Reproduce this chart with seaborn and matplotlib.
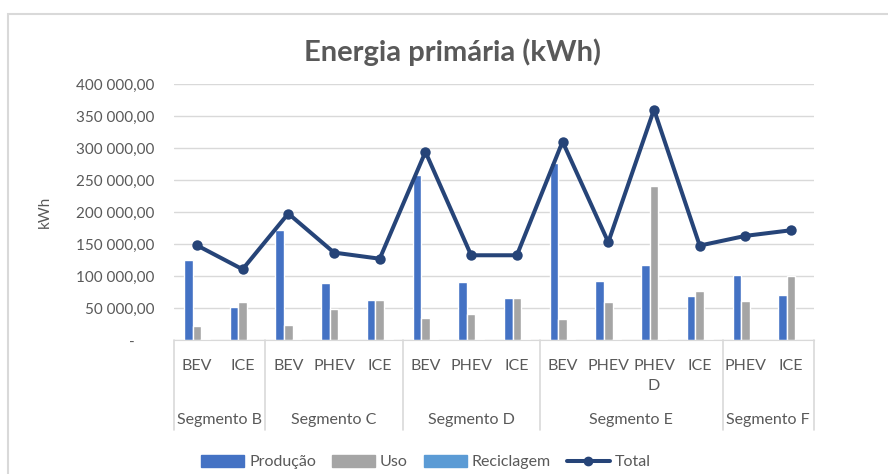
import numpy as np
import pandas as pd
import seaborn as sns
import matplotlib.pyplot as plt
import matplotlib.transforms as mtransforms
from matplotlib.patches import Rectangle
from matplotlib.lines import Line2D
from matplotlib.ticker import FuncFormatter

# data
segments = ["Segmento B", "Segmento C", "Segmento D", "Segmento E", "Segmento F"]
seg_sizes = [2, 3, 3, 4, 2]
vehicles = ["BEV", "ICE",
            "BEV", "PHEV", "ICE",
            "BEV", "PHEV", "ICE",
            "BEV", "PHEV", "PHEV\nD", "ICE",
            "PHEV", "ICE"]
producao = [124600, 51000, 172600, 88600, 63000, 258000, 90000, 65700,
            276000, 91800, 117300, 68800, 102000, 70400]
uso = [22400, 59000, 24000, 48500, 63000, 34400, 40700, 65700,
       32800, 59000, 241400, 76600, 60500, 100600]
reciclagem = [1000, 500, 1000, 500, 1000, 1600, 1700, 1000,
              1200, 2000, 1300, 2100, 200, 500]
total = [148000, 110500, 197600, 136600, 127000, 294000, 132400, 132400,
         310000, 152800, 360000, 147500, 162700, 171500]

colors = {"Produção": "#4472C4", "Uso": "#A5A5A5", "Reciclagem": "#5B9BD5"}
line_color = "#264478"
text_color = "#595959"
grid_color = "#D9D9D9"

sns.set_style("white")
plt.rcParams['font.family'] = ['Lato', 'DejaVu Sans']

keys = [f"{i}" for i in range(len(vehicles))]
df = pd.DataFrame({
    "key": keys * 3,
    "serie": ["Produção"] * 14 + ["Uso"] * 14 + ["Reciclagem"] * 14,
    "valor": producao + uso + reciclagem,
})

fig = plt.figure(figsize=(8.88, 4.74), dpi=100)
ax = fig.add_axes([174 / 888, 134 / 474, 640 / 888, 256 / 474])

sns.barplot(data=df, x="key", y="valor", hue="serie", order=keys,
            hue_order=list(colors), palette=colors, width=0.56,
            saturation=1, legend=False, ax=ax)
sns.lineplot(x=np.arange(len(total)), y=total, color=line_color, lw=2.9,
             marker="o", markersize=7.5, markeredgewidth=0, ax=ax)

ax.set_ylim(0, 400000)
ax.set_xlim(-0.5, len(vehicles) - 0.5)
ax.set_yticks(np.arange(0, 400001, 50000))
ax.yaxis.set_major_formatter(FuncFormatter(
    lambda v, p: "-     " if v == 0 else f"{v:,.2f}".replace(",", " ").replace(".", ",")))
ax.grid(axis="y", color=grid_color, lw=1)
ax.set_axisbelow(True)
for s in ["top", "right", "left"]:
    ax.spines[s].set_visible(False)
ax.spines["bottom"].set_color(grid_color)
ax.tick_params(axis="y", length=0, pad=14, labelsize=11, labelcolor=text_color)
ax.tick_params(axis="x", length=0, pad=14, labelsize=11.5, labelcolor=text_color)
ax.set_xticks(range(len(vehicles)))
ax.set_xticklabels(vehicles, linespacing=1.5)
ax.set_xlabel("")
ax.set_ylabel("kWh", fontsize=11, color=text_color, labelpad=8)
ax.yaxis.set_label_coords(-122 / 640, 0.5)

# segment separators and labels
trans = mtransforms.blended_transform_factory(ax.transData, ax.transAxes)
edges = np.concatenate([[0], np.cumsum(seg_sizes)]) - 0.5
for e in edges:
    ax.plot([e, e], [0, -90 / 256], transform=trans, color=grid_color,
            lw=1.2, clip_on=False)
for name, a, b in zip(segments, edges[:-1], edges[1:]):
    ax.text((a + b) / 2, -80 / 256, name, transform=trans, ha="center",
            va="center", fontsize=11.5, color=text_color)

fig.text(453 / 888, 1 - 52 / 474, "Energia primária (kWh)", ha="center",
         va="center", fontsize=21, fontweight="bold", color=text_color)

handles = [Rectangle((0, 0), 1, 1, color=c) for c in colors.values()]
handles.append(Line2D([0], [0], color=line_color, lw=2.9, marker="o",
                      markersize=6))
fig.legend(handles, list(colors) + ["Total"], loc="center", ncol=4,
           bbox_to_anchor=(426 / 888, 1 - 462 / 474), frameon=False,
           fontsize=11.5, labelcolor=text_color, handlelength=2.7,
           handleheight=0.8, handletextpad=0.3, columnspacing=1.0)

fig.patches.append(Rectangle((8 / 888, -0.1), 1.1, 1.1 - 14 / 474,
                             transform=fig.transFigure, fill=False,
                             edgecolor=grid_color, lw=1.5))

fig.savefig("out.png", dpi=100)
